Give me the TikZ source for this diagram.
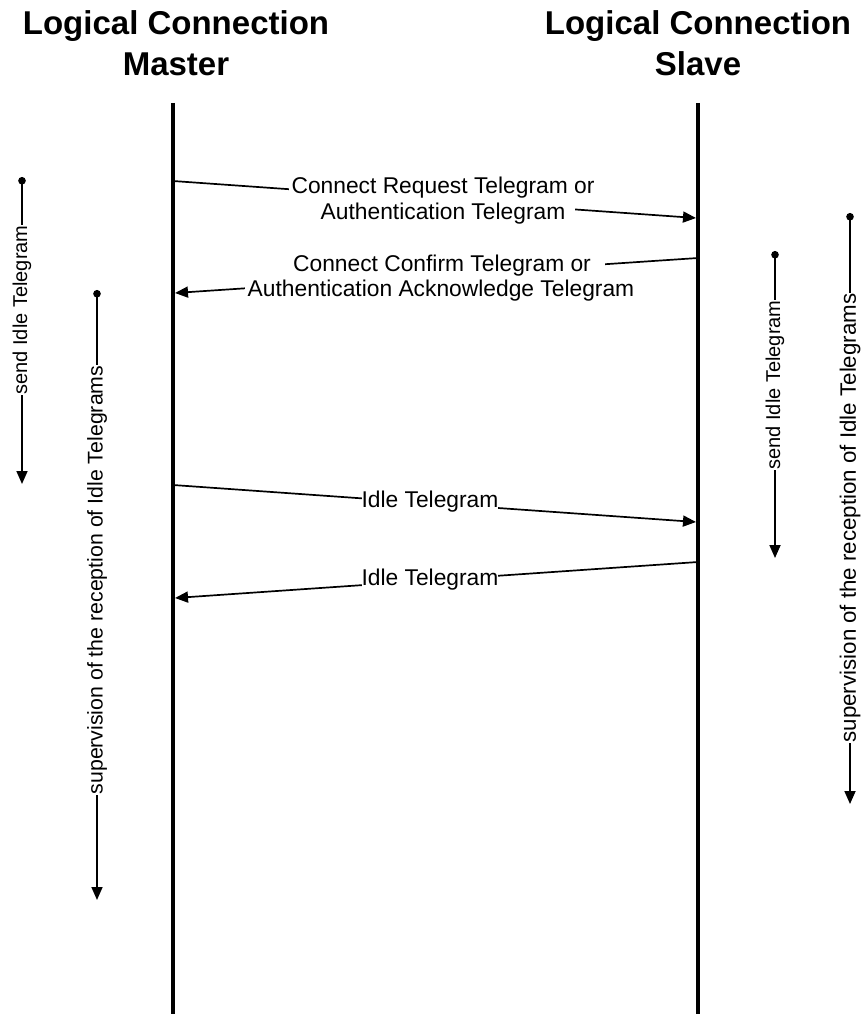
\documentclass[tikz,border=0pt]{standalone}
\usepackage{fontspec}
\setmainfont{Liberation Sans}
\usetikzlibrary{arrows.meta}
\begin{document}
\begin{tikzpicture}[x=1pt,y=-1pt,
  lifeline/.style={line width=4.5pt},
  msg/.style={line width=1.7pt,-{Triangle[length=13pt,width=11pt]}},
  timer/.style={line width=1.7pt,{Circle[length=7.5pt]}-{Triangle[length=13pt,width=11pt]}},
  lbl/.style={fill=white,inner xsep=3pt,inner ysep=2.6pt,anchor=base,font=\fontsize{22.8}{26}\selectfont},
  vlbl/.style={fill=white,inner xsep=1pt,inner ysep=0pt,rotate=90,font=\fontsize{21}{25}\selectfont},
  title/.style={anchor=base,font=\fontsize{33}{40}\selectfont\bfseries}]
\useasboundingbox[fill=white] (0,0) rectangle (862,1014);

% titles
\node[title] (tm1) at (176,35) {Logical Connection};
\node[title] (tm2) at (176,76) {Master};
\node[title] (ts1) at (698,35) {Logical Connection};
\node[title] (ts2) at (698,76) {Slave};

% lifelines
\coordinate (mtop) at (173,103);
\coordinate (mbot) at (173,1014);
\coordinate (stop) at (698,103);
\coordinate (sbot) at (698,1014);

% message endpoints
\coordinate (m1) at (173,181);
\coordinate (s1) at (696,218);
\coordinate (s2) at (698,258);
\coordinate (m2) at (175,293);
\coordinate (m3) at (173,485);
\coordinate (s3) at (696,522);
\coordinate (s4) at (698,562);
\coordinate (m4) at (175,598);

\draw[msg] (m1) -- (s1);
\draw[msg] (s2) -- (m2);
\draw[msg] (m3) -- (s3);
\draw[msg] (s4) -- (m4);

\draw[lifeline] (mtop) -- (mbot);
\draw[lifeline] (stop) -- (sbot);

% message labels
\node[lbl] (l1a) at (443,193) {Connect Request Telegram or};
\node[lbl,inner xsep=10pt] (l1b) at (443,219) {Authentication Telegram};
\node[lbl,inner xsep=14pt] (l2a) at (442,271) {Connect Confirm Telegram or};
\node[lbl] (l2b) at (441,296) {Authentication Acknowledge Telegram};
\node[lbl,inner xsep=0pt] (l3) at (430,507) {Idle Telegram};
\node[lbl,inner xsep=0pt] (l4) at (430,585) {Idle Telegram};

% timers
\coordinate (a1s) at (22,177);
\coordinate (a1e) at (22,484);
\coordinate (a2s) at (97,290);
\coordinate (a2e) at (97,900);
\coordinate (a3s) at (775,251);
\coordinate (a3e) at (775,558);
\coordinate (a4s) at (850,213);
\coordinate (a4e) at (850,804);

\draw[timer] (a1s) -- (a1e);
\draw[timer] (a2s) -- (a2e);
\draw[timer] (a3s) -- (a3e);
\draw[timer] (a4s) -- (a4e);

\node[vlbl,font=\fontsize{20}{24}\selectfont] (v1) at (22,310) {send Idle Telegram};
\node[vlbl,font=\fontsize{21.3}{25}\selectfont] (v2) at (97,580) {supervision of the reception of Idle Telegrams};
\node[vlbl,font=\fontsize{20}{24}\selectfont] (v3) at (775,385) {send Idle Telegram};
\node[vlbl,font=\fontsize{22.3}{26}\selectfont] (v4) at (850,518) {supervision of the reception of Idle Telegrams};
\end{tikzpicture}
\end{document}
